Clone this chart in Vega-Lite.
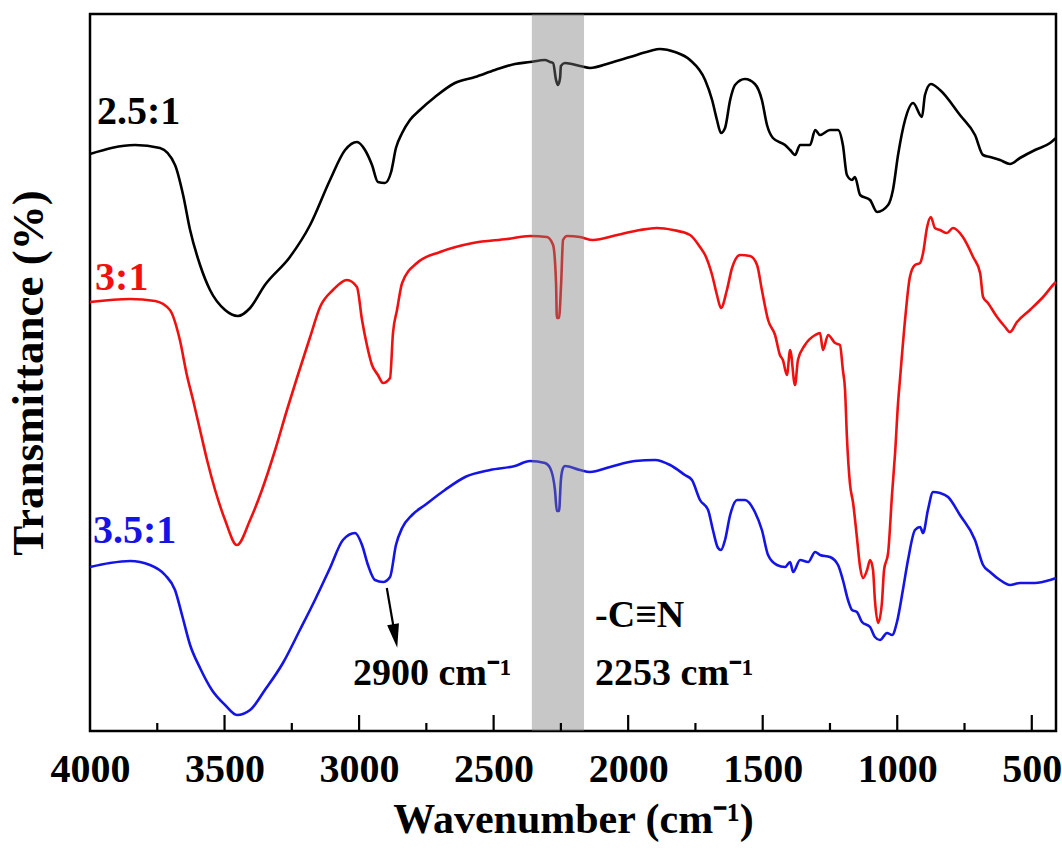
{
  "$schema": "https://vega.github.io/schema/vega-lite/v6.json",
  "width": 966,
  "height": 717,
  "autosize": {"type": "none"},
  "padding": {"left": 90, "top": 14, "right": 6, "bottom": 117},
  "background": "white",
  "config": {
    "view": {"stroke": "#000000", "strokeWidth": 2.5},
    "axis": {"grid": false},
    "font": "Liberation Serif"
  },
  "datasets": {
    "spectra": [
      {"s":"2.5:1","w":4000,"t":576},{"s":"2.5:1","w":3833,"t":585},{"s":"2.5:1","w":3740,"t":582},{"s":"2.5:1","w":3684,"t":565},{"s":"2.5:1","w":3654,"t":535},{"s":"2.5:1","w":3628,"t":500},{"s":"2.5:1","w":3591,"t":465},{"s":"2.5:1","w":3554,"t":440},{"s":"2.5:1","w":3498,"t":420},{"s":"2.5:1","w":3450,"t":414},{"s":"2.5:1","w":3405,"t":422},{"s":"2.5:1","w":3350,"t":445},{"s":"2.5:1","w":3257,"t":473},{"s":"2.5:1","w":3182,"t":505},{"s":"2.5:1","w":3108,"t":550},{"s":"2.5:1","w":3052,"t":580},{"s":"2.5:1","w":3008,"t":588},{"s":"2.5:1","w":2978,"t":580},{"s":"2.5:1","w":2952,"t":565},{"s":"2.5:1","w":2930,"t":548},{"s":"2.5:1","w":2904,"t":547},{"s":"2.5:1","w":2881,"t":558},{"s":"2.5:1","w":2863,"t":582},{"s":"2.5:1","w":2840,"t":597},{"s":"2.5:1","w":2811,"t":610},{"s":"2.5:1","w":2774,"t":620},{"s":"2.5:1","w":2718,"t":633},{"s":"2.5:1","w":2644,"t":647},{"s":"2.5:1","w":2569,"t":653},{"s":"2.5:1","w":2495,"t":660},{"s":"2.5:1","w":2421,"t":666},{"s":"2.5:1","w":2365,"t":668},{"s":"2.5:1","w":2309,"t":670},{"s":"2.5:1","w":2290,"t":668},{"s":"2.5:1","w":2279,"t":667},{"s":"2.5:1","w":2268,"t":650},{"s":"2.5:1","w":2261,"t":645},{"s":"2.5:1","w":2253,"t":652},{"s":"2.5:1","w":2250,"t":664},{"s":"2.5:1","w":2235,"t":667},{"s":"2.5:1","w":2179,"t":664},{"s":"2.5:1","w":2142,"t":662},{"s":"2.5:1","w":2067,"t":667},{"s":"2.5:1","w":1993,"t":673},{"s":"2.5:1","w":1919,"t":679},{"s":"2.5:1","w":1882,"t":681},{"s":"2.5:1","w":1826,"t":678},{"s":"2.5:1","w":1770,"t":670},{"s":"2.5:1","w":1714,"t":650},{"s":"2.5:1","w":1688,"t":630},{"s":"2.5:1","w":1670,"t":610},{"s":"2.5:1","w":1655,"t":597},{"s":"2.5:1","w":1640,"t":602},{"s":"2.5:1","w":1621,"t":630},{"s":"2.5:1","w":1603,"t":645},{"s":"2.5:1","w":1566,"t":651},{"s":"2.5:1","w":1529,"t":646},{"s":"2.5:1","w":1503,"t":630},{"s":"2.5:1","w":1484,"t":605},{"s":"2.5:1","w":1462,"t":592},{"s":"2.5:1","w":1417,"t":585},{"s":"2.5:1","w":1398,"t":580},{"s":"2.5:1","w":1380,"t":575},{"s":"2.5:1","w":1361,"t":585},{"s":"2.5:1","w":1324,"t":585},{"s":"2.5:1","w":1305,"t":600},{"s":"2.5:1","w":1287,"t":595},{"s":"2.5:1","w":1250,"t":600},{"s":"2.5:1","w":1220,"t":600},{"s":"2.5:1","w":1202,"t":585},{"s":"2.5:1","w":1187,"t":555},{"s":"2.5:1","w":1168,"t":550},{"s":"2.5:1","w":1157,"t":553},{"s":"2.5:1","w":1138,"t":535},{"s":"2.5:1","w":1101,"t":530},{"s":"2.5:1","w":1075,"t":518},{"s":"2.5:1","w":1034,"t":525},{"s":"2.5:1","w":1016,"t":540},{"s":"2.5:1","w":997,"t":575},{"s":"2.5:1","w":971,"t":610},{"s":"2.5:1","w":941,"t":627},{"s":"2.5:1","w":908,"t":613},{"s":"2.5:1","w":897,"t":635},{"s":"2.5:1","w":875,"t":646},{"s":"2.5:1","w":841,"t":640},{"s":"2.5:1","w":767,"t":615},{"s":"2.5:1","w":711,"t":595},{"s":"2.5:1","w":681,"t":575},{"s":"2.5:1","w":655,"t":573},{"s":"2.5:1","w":618,"t":570},{"s":"2.5:1","w":581,"t":566},{"s":"2.5:1","w":544,"t":572},{"s":"2.5:1","w":488,"t":580},{"s":"2.5:1","w":432,"t":587},{"s":"2.5:1","w":410,"t":592},
      {"s":"3:1","w":4000,"t":428},{"s":"3:1","w":3851,"t":431},{"s":"3:1","w":3758,"t":429},{"s":"3:1","w":3703,"t":420},{"s":"3:1","w":3666,"t":390},{"s":"3:1","w":3640,"t":355},{"s":"3:1","w":3617,"t":330},{"s":"3:1","w":3591,"t":300},{"s":"3:1","w":3565,"t":270},{"s":"3:1","w":3535,"t":240},{"s":"3:1","w":3498,"t":210},{"s":"3:1","w":3454,"t":185},{"s":"3:1","w":3405,"t":210},{"s":"3:1","w":3361,"t":240},{"s":"3:1","w":3312,"t":280},{"s":"3:1","w":3268,"t":320},{"s":"3:1","w":3231,"t":352},{"s":"3:1","w":3182,"t":393},{"s":"3:1","w":3145,"t":423},{"s":"3:1","w":3097,"t":440},{"s":"3:1","w":3045,"t":450},{"s":"3:1","w":3008,"t":443},{"s":"3:1","w":2989,"t":410},{"s":"3:1","w":2971,"t":385},{"s":"3:1","w":2952,"t":365},{"s":"3:1","w":2930,"t":355},{"s":"3:1","w":2911,"t":347},{"s":"3:1","w":2885,"t":352},{"s":"3:1","w":2874,"t":397},{"s":"3:1","w":2859,"t":420},{"s":"3:1","w":2840,"t":447},{"s":"3:1","w":2785,"t":467},{"s":"3:1","w":2699,"t":478},{"s":"3:1","w":2577,"t":487},{"s":"3:1","w":2450,"t":491},{"s":"3:1","w":2365,"t":494},{"s":"3:1","w":2302,"t":493},{"s":"3:1","w":2279,"t":485},{"s":"3:1","w":2268,"t":447},{"s":"3:1","w":2265,"t":412},{"s":"3:1","w":2257,"t":412},{"s":"3:1","w":2249,"t":447},{"s":"3:1","w":2242,"t":490},{"s":"3:1","w":2227,"t":494},{"s":"3:1","w":2179,"t":493},{"s":"3:1","w":2131,"t":490},{"s":"3:1","w":2041,"t":495},{"s":"3:1","w":1956,"t":500},{"s":"3:1","w":1893,"t":502},{"s":"3:1","w":1833,"t":500},{"s":"3:1","w":1770,"t":495},{"s":"3:1","w":1733,"t":483},{"s":"3:1","w":1714,"t":475},{"s":"3:1","w":1688,"t":455},{"s":"3:1","w":1670,"t":435},{"s":"3:1","w":1655,"t":422},{"s":"3:1","w":1633,"t":440},{"s":"3:1","w":1614,"t":462},{"s":"3:1","w":1584,"t":475},{"s":"3:1","w":1547,"t":474},{"s":"3:1","w":1521,"t":465},{"s":"3:1","w":1503,"t":440},{"s":"3:1","w":1480,"t":410},{"s":"3:1","w":1454,"t":395},{"s":"3:1","w":1436,"t":375},{"s":"3:1","w":1425,"t":370},{"s":"3:1","w":1410,"t":355},{"s":"3:1","w":1398,"t":380},{"s":"3:1","w":1380,"t":345},{"s":"3:1","w":1369,"t":370},{"s":"3:1","w":1343,"t":385},{"s":"3:1","w":1305,"t":395},{"s":"3:1","w":1287,"t":397},{"s":"3:1","w":1276,"t":380},{"s":"3:1","w":1257,"t":395},{"s":"3:1","w":1231,"t":387},{"s":"3:1","w":1213,"t":385},{"s":"3:1","w":1202,"t":360},{"s":"3:1","w":1194,"t":340},{"s":"3:1","w":1187,"t":293},{"s":"3:1","w":1176,"t":247},{"s":"3:1","w":1164,"t":227},{"s":"3:1","w":1150,"t":193},{"s":"3:1","w":1138,"t":163},{"s":"3:1","w":1127,"t":152},{"s":"3:1","w":1112,"t":160},{"s":"3:1","w":1101,"t":170},{"s":"3:1","w":1090,"t":160},{"s":"3:1","w":1083,"t":130},{"s":"3:1","w":1071,"t":107},{"s":"3:1","w":1057,"t":127},{"s":"3:1","w":1049,"t":160},{"s":"3:1","w":1034,"t":177},{"s":"3:1","w":1019,"t":237},{"s":"3:1","w":1008,"t":277},{"s":"3:1","w":997,"t":327},{"s":"3:1","w":990,"t":350},{"s":"3:1","w":971,"t":410},{"s":"3:1","w":953,"t":453},{"s":"3:1","w":934,"t":465},{"s":"3:1","w":915,"t":467},{"s":"3:1","w":904,"t":477},{"s":"3:1","w":889,"t":503},{"s":"3:1","w":875,"t":513},{"s":"3:1","w":860,"t":502},{"s":"3:1","w":841,"t":500},{"s":"3:1","w":815,"t":497},{"s":"3:1","w":793,"t":502},{"s":"3:1","w":756,"t":493},{"s":"3:1","w":718,"t":473},{"s":"3:1","w":692,"t":457},{"s":"3:1","w":681,"t":433},{"s":"3:1","w":663,"t":427},{"s":"3:1","w":629,"t":413},{"s":"3:1","w":599,"t":403},{"s":"3:1","w":581,"t":398},{"s":"3:1","w":555,"t":408},{"s":"3:1","w":507,"t":420},{"s":"3:1","w":458,"t":433},{"s":"3:1","w":414,"t":447},{"s":"3:1","w":410,"t":448},
      {"s":"3.5:1","w":4000,"t":163},{"s":"3.5:1","w":3926,"t":167},{"s":"3.5:1","w":3851,"t":169},{"s":"3.5:1","w":3777,"t":165},{"s":"3.5:1","w":3721,"t":155},{"s":"3.5:1","w":3684,"t":140},{"s":"3.5:1","w":3658,"t":115},{"s":"3.5:1","w":3628,"t":85},{"s":"3.5:1","w":3591,"t":62},{"s":"3.5:1","w":3547,"t":40},{"s":"3.5:1","w":3498,"t":25},{"s":"3.5:1","w":3454,"t":15},{"s":"3.5:1","w":3405,"t":20},{"s":"3.5:1","w":3350,"t":40},{"s":"3.5:1","w":3283,"t":67},{"s":"3.5:1","w":3220,"t":100},{"s":"3.5:1","w":3164,"t":130},{"s":"3.5:1","w":3108,"t":162},{"s":"3.5:1","w":3060,"t":190},{"s":"3.5:1","w":3015,"t":197},{"s":"3.5:1","w":2989,"t":185},{"s":"3.5:1","w":2967,"t":165},{"s":"3.5:1","w":2941,"t":150},{"s":"3.5:1","w":2911,"t":148},{"s":"3.5:1","w":2885,"t":153},{"s":"3.5:1","w":2863,"t":185},{"s":"3.5:1","w":2840,"t":202},{"s":"3.5:1","w":2803,"t":215},{"s":"3.5:1","w":2755,"t":225},{"s":"3.5:1","w":2681,"t":240},{"s":"3.5:1","w":2606,"t":253},{"s":"3.5:1","w":2513,"t":260},{"s":"3.5:1","w":2421,"t":264},{"s":"3.5:1","w":2365,"t":269},{"s":"3.5:1","w":2309,"t":267},{"s":"3.5:1","w":2290,"t":262},{"s":"3.5:1","w":2272,"t":240},{"s":"3.5:1","w":2265,"t":219},{"s":"3.5:1","w":2257,"t":219},{"s":"3.5:1","w":2250,"t":250},{"s":"3.5:1","w":2242,"t":262},{"s":"3.5:1","w":2235,"t":264},{"s":"3.5:1","w":2179,"t":260},{"s":"3.5:1","w":2142,"t":258},{"s":"3.5:1","w":2067,"t":263},{"s":"3.5:1","w":1975,"t":269},{"s":"3.5:1","w":1900,"t":270},{"s":"3.5:1","w":1844,"t":265},{"s":"3.5:1","w":1789,"t":255},{"s":"3.5:1","w":1763,"t":250},{"s":"3.5:1","w":1733,"t":230},{"s":"3.5:1","w":1703,"t":220},{"s":"3.5:1","w":1685,"t":200},{"s":"3.5:1","w":1666,"t":182},{"s":"3.5:1","w":1655,"t":180},{"s":"3.5:1","w":1640,"t":190},{"s":"3.5:1","w":1621,"t":215},{"s":"3.5:1","w":1595,"t":230},{"s":"3.5:1","w":1566,"t":230},{"s":"3.5:1","w":1529,"t":218},{"s":"3.5:1","w":1503,"t":200},{"s":"3.5:1","w":1480,"t":175},{"s":"3.5:1","w":1447,"t":165},{"s":"3.5:1","w":1417,"t":163},{"s":"3.5:1","w":1398,"t":168},{"s":"3.5:1","w":1387,"t":158},{"s":"3.5:1","w":1361,"t":170},{"s":"3.5:1","w":1331,"t":168},{"s":"3.5:1","w":1305,"t":178},{"s":"3.5:1","w":1287,"t":175},{"s":"3.5:1","w":1250,"t":173},{"s":"3.5:1","w":1220,"t":165},{"s":"3.5:1","w":1202,"t":150},{"s":"3.5:1","w":1183,"t":130},{"s":"3.5:1","w":1168,"t":120},{"s":"3.5:1","w":1150,"t":118},{"s":"3.5:1","w":1131,"t":108},{"s":"3.5:1","w":1101,"t":103},{"s":"3.5:1","w":1083,"t":93},{"s":"3.5:1","w":1064,"t":90},{"s":"3.5:1","w":1038,"t":97},{"s":"3.5:1","w":1019,"t":95},{"s":"3.5:1","w":1001,"t":108},{"s":"3.5:1","w":979,"t":140},{"s":"3.5:1","w":960,"t":170},{"s":"3.5:1","w":934,"t":200},{"s":"3.5:1","w":915,"t":203},{"s":"3.5:1","w":904,"t":197},{"s":"3.5:1","w":886,"t":220},{"s":"3.5:1","w":867,"t":238},{"s":"3.5:1","w":841,"t":237},{"s":"3.5:1","w":811,"t":233},{"s":"3.5:1","w":767,"t":215},{"s":"3.5:1","w":711,"t":190},{"s":"3.5:1","w":681,"t":165},{"s":"3.5:1","w":655,"t":158},{"s":"3.5:1","w":618,"t":150},{"s":"3.5:1","w":581,"t":145},{"s":"3.5:1","w":544,"t":147},{"s":"3.5:1","w":488,"t":147},{"s":"3.5:1","w":432,"t":150},{"s":"3.5:1","w":410,"t":152}
    ],
    "serieslabels": [
      {"s":"2.5:1","label":"2.5:1","w":3974,"t":606},
      {"s":"3:1","label":"3:1","w":3981,"t":440},
      {"s":"3.5:1","label":"3.5:1","w":3989,"t":187}
    ],
    "notes": [
      {"label":"2900 cm⁻¹","w":3023,"t":45},
      {"label":"-C≡N","w":2123,"t":103},
      {"label":"2253 cm⁻¹","w":2123,"t":45}
    ],
    "band": [{"a":2358,"b":2164}],
    "arrow": [{"w":2897,"t":142,"w2":2870,"t2":100}],
    "arrowhead": [{"w":2866,"t":94}],
    "majorticks": [{"w":3500},{"w":3000},{"w":2500},{"w":2000},{"w":1500},{"w":1000},{"w":500}],
    "minorticks": [{"w":3750},{"w":3250},{"w":2750},{"w":2250},{"w":1750},{"w":1250},{"w":750}]
  },
  "layer": [
    {
      "data": {"name": "spectra"},
      "mark": {"type": "line", "strokeWidth": 2.6, "strokeJoin": "round", "interpolate": "monotone"},
      "encoding": {
        "x": {"field": "w", "type": "quantitative", "scale": {"domain": [410, 4000], "reverse": true, "nice": false, "zero": false},
          "axis": {"values": [4000,3500,3000,2500,2000,1500,1000,500], "format": "d", "ticks": false, "domain": false, "grid": false,
            "labelFont": "Liberation Serif", "labelFontWeight": "bold", "labelFontSize": 40, "labelColor": "#000000", "labelPadding": 18,
            "labelFlush": false, "labelOverlap": false,
            "title": "Wavenumber (cm⁻¹)", "titleFont": "Liberation Serif", "titleFontWeight": "bold", "titleFontSize": 42, "titleColor": "#000000", "titlePadding": 10}},
        "y": {"field": "t", "type": "quantitative", "scale": {"domain": [-1, 716], "nice": false, "zero": false},
          "axis": {"labels": false, "ticks": false, "domain": false, "grid": false,
            "title": "Transmittance (%)", "titleFont": "Liberation Serif", "titleFontWeight": "bold", "titleFontSize": 45, "titleColor": "#000000", "titlePadding": 39}},
        "color": {"field": "s", "type": "nominal", "scale": {"domain": ["2.5:1","3:1","3.5:1"], "range": ["#000000","#f01010","#1414e6"]}, "legend": null},
        "detail": {"field": "s"}
      }
    },
    {
      "data": {"name": "band"},
      "mark": {"type": "rect", "color": "#7a7a7a", "opacity": 0.42},
      "encoding": {
        "x": {"field": "a", "type": "quantitative"},
        "x2": {"field": "b"}
      }
    },
    {
      "data": {"name": "serieslabels"},
      "mark": {"type": "text", "align": "left", "baseline": "alphabetic", "font": "Liberation Serif", "fontWeight": "bold", "fontSize": 40},
      "encoding": {
        "x": {"field": "w", "type": "quantitative"},
        "y": {"field": "t", "type": "quantitative"},
        "text": {"field": "label"},
        "color": {"field": "s", "type": "nominal", "legend": null}
      }
    },
    {
      "data": {"name": "notes"},
      "mark": {"type": "text", "align": "left", "baseline": "alphabetic", "font": "Liberation Serif", "fontWeight": "bold", "fontSize": 38, "color": "#000000"},
      "encoding": {
        "x": {"field": "w", "type": "quantitative"},
        "y": {"field": "t", "type": "quantitative"},
        "text": {"field": "label"}
      }
    },
    {
      "data": {"name": "arrow"},
      "mark": {"type": "rule", "color": "#000000", "strokeWidth": 2.2},
      "encoding": {
        "x": {"field": "w", "type": "quantitative"},
        "y": {"field": "t", "type": "quantitative"},
        "x2": {"field": "w2"},
        "y2": {"field": "t2"}
      }
    },
    {
      "data": {"name": "arrowhead"},
      "mark": {"type": "point", "shape": "M-0.5,-1L0.5,-1L0,1Z", "filled": true, "color": "#000000", "size": 576, "angle": 350, "opacity": 1},
      "encoding": {
        "x": {"field": "w", "type": "quantitative"},
        "y": {"field": "t", "type": "quantitative"}
      }
    },
    {
      "data": {"name": "majorticks"},
      "mark": {"type": "rule", "color": "#000000", "strokeWidth": 2.2},
      "encoding": {
        "x": {"field": "w", "type": "quantitative"},
        "y": {"datum": -1},
        "y2": {"datum": 15}
      }
    },
    {
      "data": {"name": "minorticks"},
      "mark": {"type": "rule", "color": "#000000", "strokeWidth": 2.2},
      "encoding": {
        "x": {"field": "w", "type": "quantitative"},
        "y": {"datum": -1},
        "y2": {"datum": 7}
      }
    }
  ]
}
